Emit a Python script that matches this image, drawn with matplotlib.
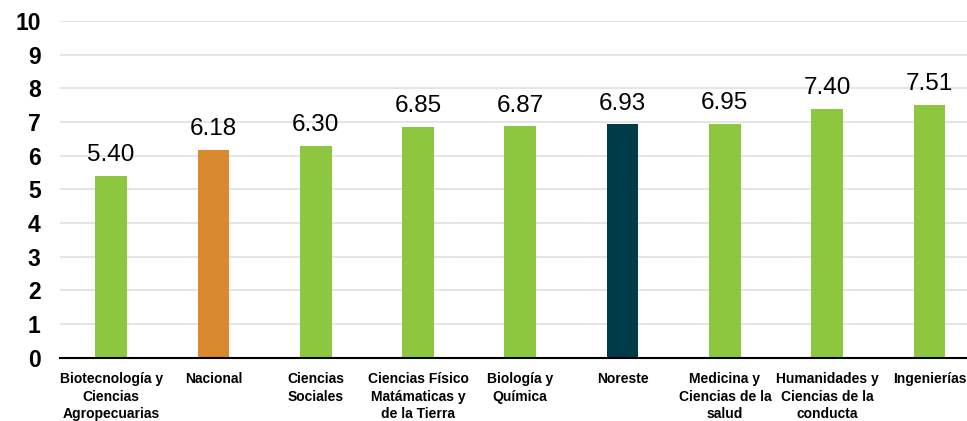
import matplotlib.pyplot as plt

categories = ['Biotecnología y\nCiencias\nAgropecuarias', 'Nacional', 'Ciencias\nSociales',
              'Ciencias Físico\nMatámaticas y\nde la Tierra', 'Biología y\nQuímica', 'Noreste',
              'Medicina y\nCiencias de la\nsalud', 'Humanidades y\nCiencias de la\nconducta',
              'Ingenierías']
values = [5.40, 6.18, 6.30, 6.85, 6.87, 6.93, 6.95, 7.40, 7.51]

green = '#8DC63F'
colors = [green, '#D98A2E', green, green, green, '#003B4A', green, green, green]

plt.rcParams['font.family'] = ['Liberation Sans', 'DejaVu Sans']

fig = plt.figure(figsize=(9.67, 4.21), dpi=100)
ax = fig.add_axes([0.062, 0.150, 0.952, 0.800])

x = list(range(len(categories)))
bars = ax.bar(x, values, width=0.31, color=colors, zorder=3)

for b, v in zip(bars, values):
    ax.annotate('%.2f' % v, (b.get_x() + b.get_width() / 2, v),
                xytext=(0, 7), textcoords='offset points',
                ha='center', va='bottom', fontsize=17.5, color='black')

ax.set_xlim(-0.5, 8.5)
ax.set_ylim(0, 10)
ax.set_yticks(range(0, 11))
ax.set_yticklabels([str(i) for i in range(0, 11)], fontsize=16.5, fontweight='bold')
ax.set_xticks(x)
ax.set_xticklabels(categories, fontsize=10, fontweight='bold', linespacing=1.35, va='top')

ax.grid(axis='y', color='#e0e0e0', linewidth=1.2, zorder=0)
for s in ['top', 'right', 'left']:
    ax.spines[s].set_visible(False)
ax.spines['bottom'].set_color('black')
ax.spines['bottom'].set_linewidth(1.5)
ax.spines['bottom'].set_zorder(4)
ax.tick_params(axis='both', length=0)
ax.tick_params(axis='x', pad=10)
ax.tick_params(axis='y', pad=14)

fig.savefig('out.png', dpi=100)
